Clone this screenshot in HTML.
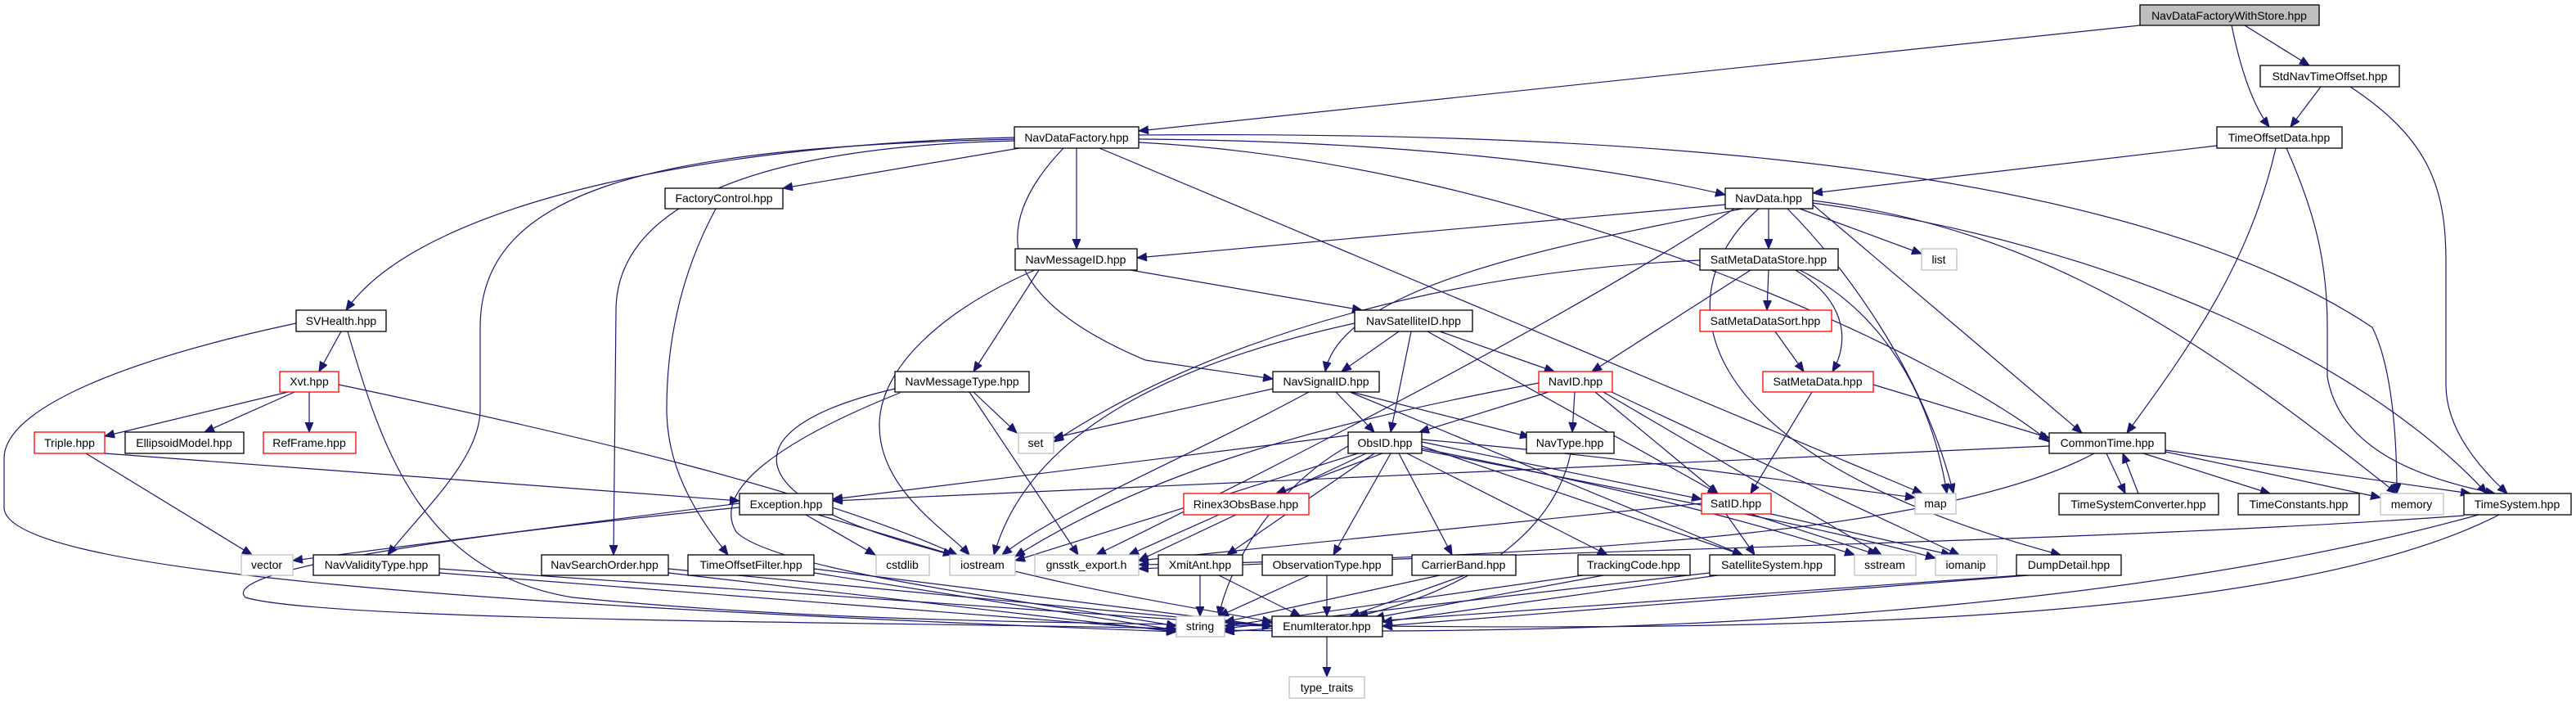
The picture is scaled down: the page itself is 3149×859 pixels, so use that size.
<!DOCTYPE html>
<html><head><meta charset="utf-8"><style>
html,body{margin:0;padding:0;background:#fff;}
svg{display:block}
text{font-family:"Liberation Sans",sans-serif;font-size:14px;fill:#000;text-anchor:middle}
.n{fill:#fff;stroke:#000;stroke-width:1.3}
.g{fill:#fff;stroke:#bfbfbf;stroke-width:1.3}
.r{fill:#fff;stroke:#ff0000;stroke-width:1.3}
.e path{fill:none;stroke:#191970;stroke-width:1.2;marker-end:url(#a)}
</style></head><body>
<svg width="3149" height="859" viewBox="0 0 3149 859" xmlns="http://www.w3.org/2000/svg">
<defs><marker id="a" markerUnits="userSpaceOnUse" markerWidth="14" markerHeight="12" refX="12" refY="5" orient="auto"><path d="M0,0 L12,5 L0,10 z" fill="#191970" stroke="#191970"/></marker></defs>
<g class="e">
<path d="M2616 31 L1392 160"/>
<path d="M2744 31 L2823 80"/>
<path d="M2728 31 C2740 90 2755 130 2774 155"/>
<path d="M2837 106 L2800 155"/>
<path d="M2873 106 C2970 170 2990 230 2990 320 L2990 470 C2990 530 3040 580 3065 603"/>
<path d="M2710 178 L2216 236"/>
<path d="M2782 181 C2750 320 2680 420 2600 529"/>
<path d="M2795 181 C2830 260 2845 320 2845 400 L2845 460 C2860 550 2960 585 3050 603"/>
<path d="M1240 168 C900 175 520 240 423 379"/>
<path d="M1240 170 C800 180 587 230 587 400 L587 500 C587 560 520 620 474 678"/>
<path d="M1240 172 C900 180 753 260 753 380 L750 678"/>
<path d="M1246 181 L957 230"/>
<path d="M1316 181 L1316 304"/>
<path d="M1300 181 C1215 270 1210 360 1400 440 L1556 463"/>
<path d="M1392 170 C1700 172 1950 200 2109 238"/>
<path d="M1392 174 C1900 200 2400 450 2505 540"/>
<path d="M1344 181 L2350 603"/>
<path d="M1392 165 C2000 160 2600 200 2900 400 C2925 450 2930 540 2930 603"/>
<path d="M875 255 C840 320 815 400 815 500 C815 580 860 640 890 678"/>
<path d="M1270 330 L1190 454"/>
<path d="M1265 330 C1150 380 1075 450 1075 520 C1075 600 1160 650 1185 678"/>
<path d="M1382 330 L1665 379"/>
<path d="M1190 479 L1243 529"/>
<path d="M1185 479 L1318 678"/>
<path d="M1100 480 C950 540 870 600 900 650 C950 700 1300 740 1438 765"/>
<path d="M1094 475 C900 520 900 600 1100 660 C1300 720 1450 740 1555 760"/>
<path d="M417 405 L390 454"/>
<path d="M362 395 C150 440 5 500 5 560 L5 620 C5 700 600 740 1438 772"/>
<path d="M425 405 C470 560 520 700 700 730 C1000 760 1300 760 1555 765"/>
<path d="M352 479 L128 533"/>
<path d="M360 479 L250 528"/>
<path d="M378 479 L378 528"/>
<path d="M414 470 C700 530 1000 600 1170 678"/>
<path d="M105 554 L308 678"/>
<path d="M128 554 L904 612"/>
<path d="M985 629 L1070 678"/>
<path d="M1000 629 L1165 678"/>
<path d="M904 620 C500 660 270 700 300 730 C400 760 1100 760 1438 768"/>
<path d="M904 615 L358 685"/>
<path d="M1710 405 L1640 454"/>
<path d="M1725 405 L1700 528"/>
<path d="M1760 405 L1900 454"/>
<path d="M1745 405 L2100 603"/>
<path d="M1656 395 C1450 440 1260 520 1215 678"/>
<path d="M1633 479 L1680 528"/>
<path d="M1652 479 L1870 534"/>
<path d="M1556 475 L1288 535"/>
<path d="M1600 479 C1450 560 1300 620 1225 678"/>
<path d="M1650 479 L2130 678"/>
<path d="M1893 479 L1735 528"/>
<path d="M1881 468 C1600 520 1400 580 1241 680"/>
<path d="M1925 479 L1922 528"/>
<path d="M1950 479 L2100 603"/>
<path d="M1960 479 L2300 678"/>
<path d="M1970 479 L2395 678"/>
<path d="M2078 318 C1800 330 1500 400 1288 540"/>
<path d="M2140 330 L1946 454"/>
<path d="M2162 330 L2160 379"/>
<path d="M2195 330 C2260 370 2260 420 2240 454"/>
<path d="M2200 330 C2300 380 2360 480 2380 603"/>
<path d="M2109 250 L1390 315"/>
<path d="M2130 255 C1900 300 1640 350 1620 454"/>
<path d="M2162 255 L2162 304"/>
<path d="M2200 255 L2349 310"/>
<path d="M2185 255 C2250 320 2350 450 2388 603"/>
<path d="M2216 250 L2545 529"/>
<path d="M2216 245 C2500 280 2700 420 2930 603"/>
<path d="M2216 248 C2600 300 2900 450 3040 603"/>
<path d="M2120 255 C1900 400 1500 600 1340 678"/>
<path d="M2150 255 C2040 350 2040 550 2519 678"/>
<path d="M2170 405 L2205 454"/>
<path d="M2215 479 L2140 603"/>
<path d="M2290 470 L2505 535"/>
<path d="M1648 532 L1018 610"/>
<path d="M1648 545 C1550 600 1500 700 1490 753"/>
<path d="M1660 554 L1241 685"/>
<path d="M1670 554 L1392 685"/>
<path d="M1690 554 L1560 603"/>
<path d="M1680 554 L1500 678"/>
<path d="M1700 554 L1630 678"/>
<path d="M1710 554 L1775 678"/>
<path d="M1720 554 L1965 678"/>
<path d="M1738 545 L2130 678"/>
<path d="M1738 540 L2080 610"/>
<path d="M1738 537 C2000 560 2200 590 2341 608"/>
<path d="M1738 548 C2000 600 2150 640 2267 678"/>
<path d="M1738 550 C2050 610 2250 650 2366 682"/>
<path d="M1920 554 C1900 650 1800 720 1660 753"/>
<path d="M2110 628 L2145 678"/>
<path d="M2140 628 L2295 678"/>
<path d="M2165 628 L2385 678"/>
<path d="M2080 615 L1392 685"/>
<path d="M2505 545 L1018 612"/>
<path d="M2560 554 C2400 640 2000 680 1392 690"/>
<path d="M2575 554 L2598 603"/>
<path d="M2614 603 L2595 554"/>
<path d="M2620 554 L2775 603"/>
<path d="M2647 552 L2910 608"/>
<path d="M2647 550 L3020 603"/>
<path d="M3012 630 C2600 660 2000 670 1392 695"/>
<path d="M3030 629 C2700 720 2200 780 1497 770"/>
<path d="M3055 629 C2800 760 2200 770 1690 765"/>
<path d="M1490 629 L1380 678"/>
<path d="M1467 703 L1467 753"/>
<path d="M1490 703 L1590 753"/>
<path d="M1622 703 L1622 753"/>
<path d="M1600 703 L1490 753"/>
<path d="M1760 703 L1497 760"/>
<path d="M1790 703 L1650 753"/>
<path d="M1935 703 L1497 765"/>
<path d="M1960 703 L1680 755"/>
<path d="M2090 700 L1497 768"/>
<path d="M2100 703 L1690 760"/>
<path d="M2470 703 L1497 772"/>
<path d="M2480 703 L1690 765"/>
<path d="M537 700 L1438 770"/>
<path d="M537 695 L1555 765"/>
<path d="M817 700 L1438 772"/>
<path d="M817 695 L1555 765"/>
<path d="M995 700 L1438 770"/>
<path d="M995 695 L1555 765"/>
<path d="M1622 778 L1622 827"/>
</g>
<g>
<rect class="n" x="2616" y="6" width="219" height="25" style="fill:#bfbfbf"/><text x="2725" y="24">NavDataFactoryWithStore.hpp</text>
<rect class="n" x="2763" y="80" width="170" height="26"/><text x="2848" y="98">StdNavTimeOffset.hpp</text>
<rect class="n" x="1240" y="155" width="152" height="26"/><text x="1316" y="173">NavDataFactory.hpp</text>
<rect class="n" x="2710" y="155" width="153" height="26"/><text x="2786" y="173">TimeOffsetData.hpp</text>
<rect class="n" x="813" y="230" width="144" height="25"/><text x="885" y="247">FactoryControl.hpp</text>
<rect class="n" x="2109" y="230" width="107" height="25"/><text x="2162" y="247">NavData.hpp</text>
<rect class="n" x="1241" y="304" width="149" height="26"/><text x="1315" y="322">NavMessageID.hpp</text>
<rect class="n" x="2078" y="304" width="169" height="26"/><text x="2162" y="322">SatMetaDataStore.hpp</text>
<rect class="g" x="2349" y="304" width="43" height="26"/><text x="2370" y="322">list</text>
<rect class="n" x="362" y="379" width="110" height="26"/><text x="417" y="397">SVHealth.hpp</text>
<rect class="n" x="1656" y="379" width="144" height="26"/><text x="1728" y="397">NavSatelliteID.hpp</text>
<rect class="r" x="2078" y="379" width="161" height="26"/><text x="2158" y="397">SatMetaDataSort.hpp</text>
<rect class="r" x="342" y="454" width="72" height="25"/><text x="378" y="471">Xvt.hpp</text>
<rect class="n" x="1094" y="454" width="164" height="25"/><text x="1176" y="471">NavMessageType.hpp</text>
<rect class="n" x="1556" y="454" width="130" height="25"/><text x="1621" y="471">NavSignalID.hpp</text>
<rect class="r" x="1881" y="454" width="90" height="25"/><text x="1926" y="471">NavID.hpp</text>
<rect class="r" x="2155" y="454" width="135" height="25"/><text x="2222" y="471">SatMetaData.hpp</text>
<rect class="r" x="42" y="528" width="86" height="26"/><text x="85" y="546">Triple.hpp</text>
<rect class="n" x="153" y="528" width="145" height="26"/><text x="225" y="546">EllipsoidModel.hpp</text>
<rect class="r" x="322" y="528" width="113" height="26"/><text x="378" y="546">RefFrame.hpp</text>
<rect class="g" x="1245" y="529" width="43" height="25"/><text x="1266" y="546">set</text>
<rect class="n" x="1648" y="528" width="90" height="26"/><text x="1693" y="546">ObsID.hpp</text>
<rect class="n" x="1866" y="528" width="107" height="26"/><text x="1919" y="546">NavType.hpp</text>
<rect class="n" x="2505" y="529" width="142" height="25"/><text x="2576" y="546">CommonTime.hpp</text>
<rect class="n" x="904" y="603" width="114" height="26"/><text x="961" y="621">Exception.hpp</text>
<rect class="r" x="1447" y="603" width="153" height="26"/><text x="1523" y="621">Rinex3ObsBase.hpp</text>
<rect class="r" x="2080" y="603" width="85" height="25"/><text x="2122" y="620">SatID.hpp</text>
<rect class="g" x="2341" y="603" width="50" height="25"/><text x="2366" y="620">map</text>
<rect class="n" x="2517" y="603" width="195" height="26"/><text x="2614" y="621">TimeSystemConverter.hpp</text>
<rect class="n" x="2736" y="603" width="148" height="26"/><text x="2810" y="621">TimeConstants.hpp</text>
<rect class="g" x="2910" y="603" width="77" height="26"/><text x="2948" y="621">memory</text>
<rect class="n" x="3012" y="603" width="131" height="26"/><text x="3077" y="621">TimeSystem.hpp</text>
<rect class="g" x="295" y="678" width="63" height="25"/><text x="326" y="695">vector</text>
<rect class="n" x="383" y="678" width="154" height="25"/><text x="460" y="695">NavValidityType.hpp</text>
<rect class="n" x="662" y="678" width="155" height="25"/><text x="739" y="695">NavSearchOrder.hpp</text>
<rect class="n" x="841" y="678" width="154" height="25"/><text x="918" y="695">TimeOffsetFilter.hpp</text>
<rect class="g" x="1071" y="678" width="65" height="25"/><text x="1103" y="695">cstdlib</text>
<rect class="g" x="1161" y="678" width="80" height="25"/><text x="1201" y="695">iostream</text>
<rect class="g" x="1265" y="678" width="127" height="25"/><text x="1328" y="695">gnsstk_export.h</text>
<rect class="n" x="1416" y="678" width="103" height="25"/><text x="1467" y="695">XmitAnt.hpp</text>
<rect class="n" x="1543" y="678" width="159" height="25"/><text x="1622" y="695">ObservationType.hpp</text>
<rect class="n" x="1726" y="678" width="127" height="25"/><text x="1789" y="695">CarrierBand.hpp</text>
<rect class="n" x="1929" y="678" width="137" height="25"/><text x="1997" y="695">TrackingCode.hpp</text>
<rect class="n" x="2090" y="678" width="153" height="25"/><text x="2166" y="695">SatelliteSystem.hpp</text>
<rect class="g" x="2267" y="678" width="75" height="25"/><text x="2304" y="695">sstream</text>
<rect class="g" x="2366" y="678" width="75" height="25"/><text x="2403" y="695">iomanip</text>
<rect class="n" x="2465" y="678" width="128" height="25"/><text x="2529" y="695">DumpDetail.hpp</text>
<rect class="g" x="1438" y="753" width="59" height="25"/><text x="1467" y="770">string</text>
<rect class="n" x="1555" y="753" width="135" height="25"/><text x="1622" y="770">EnumIterator.hpp</text>
<rect class="g" x="1576" y="827" width="92" height="26"/><text x="1622" y="845">type_traits</text>
</g>
</svg>
</body></html>
